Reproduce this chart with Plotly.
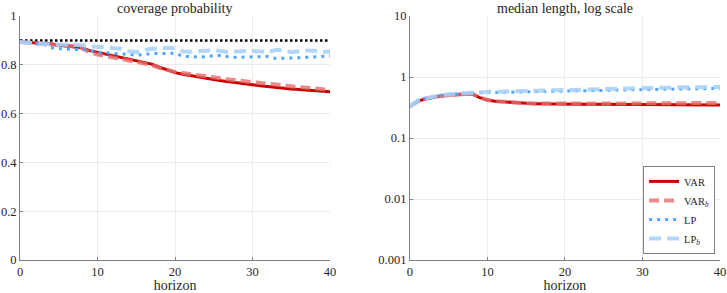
import plotly.graph_objects as go

horizon = list(range(41))
nominal = 0.9

cov_var = [0.893, 0.891, 0.889, 0.889, 0.886, 0.880, 0.877, 0.876, 0.870, 0.858,
           0.851, 0.845, 0.838, 0.832, 0.826, 0.819, 0.812, 0.803, 0.790, 0.778,
           0.768, 0.761, 0.755, 0.750, 0.745, 0.740, 0.735, 0.730, 0.726, 0.722,
           0.718, 0.714, 0.710, 0.707, 0.704, 0.701, 0.699, 0.697, 0.695, 0.693, 0.690]
cov_varb = [0.893, 0.890, 0.887, 0.886, 0.884, 0.878, 0.878, 0.876, 0.868, 0.852,
            0.842, 0.835, 0.828, 0.823, 0.818, 0.812, 0.806, 0.798, 0.788, 0.779,
            0.771, 0.766, 0.761, 0.756, 0.752, 0.748, 0.744, 0.740, 0.736, 0.732,
            0.728, 0.725, 0.721, 0.718, 0.715, 0.712, 0.709, 0.706, 0.703, 0.700, 0.697]
cov_lp = [0.893, 0.889, 0.887, 0.886, 0.870, 0.866, 0.864, 0.863, 0.862, 0.860,
          0.852, 0.850, 0.849, 0.847, 0.843, 0.840, 0.842, 0.846, 0.846, 0.846,
          0.848, 0.835, 0.832, 0.832, 0.833, 0.838, 0.838, 0.832, 0.831, 0.831,
          0.831, 0.832, 0.834, 0.826, 0.826, 0.829, 0.829, 0.831, 0.833, 0.835, 0.836]
cov_lpb = [0.893, 0.890, 0.889, 0.887, 0.884, 0.882, 0.882, 0.882, 0.880, 0.876,
           0.874, 0.872, 0.870, 0.866, 0.856, 0.852, 0.860, 0.866, 0.866, 0.870,
           0.868, 0.855, 0.853, 0.857, 0.858, 0.860, 0.855, 0.852, 0.855, 0.858,
           0.857, 0.855, 0.852, 0.861, 0.860, 0.852, 0.856, 0.859, 0.858, 0.852, 0.855]

len_var = [0.33, 0.40, 0.44, 0.47, 0.49, 0.505, 0.515, 0.525, 0.53, 0.46,
           0.42, 0.40, 0.39, 0.38, 0.375, 0.37, 0.366, 0.363, 0.361, 0.359,
           0.358, 0.357, 0.356, 0.356, 0.355, 0.355, 0.354, 0.354, 0.353, 0.353,
           0.352, 0.352, 0.351, 0.351, 0.350, 0.350, 0.349, 0.349, 0.348, 0.348, 0.347]
len_varb = [0.33, 0.40, 0.44, 0.47, 0.49, 0.505, 0.515, 0.525, 0.53, 0.46,
            0.42, 0.40, 0.39, 0.38, 0.376, 0.372, 0.369, 0.367, 0.366, 0.365,
            0.365, 0.365, 0.366, 0.366, 0.367, 0.367, 0.368, 0.368, 0.369, 0.369,
            0.370, 0.370, 0.371, 0.371, 0.372, 0.372, 0.373, 0.373, 0.374, 0.374, 0.375]
len_lp = [0.33, 0.41, 0.45, 0.48, 0.50, 0.515, 0.525, 0.535, 0.545, 0.55,
          0.555, 0.558, 0.562, 0.566, 0.570, 0.574, 0.578, 0.582, 0.585, 0.588,
          0.591, 0.594, 0.597, 0.600, 0.603, 0.606, 0.609, 0.612, 0.615, 0.618,
          0.621, 0.624, 0.627, 0.630, 0.633, 0.636, 0.639, 0.642, 0.645, 0.648, 0.650]
len_lpb = [0.33, 0.41, 0.45, 0.48, 0.50, 0.52, 0.535, 0.545, 0.56, 0.565,
           0.57, 0.575, 0.58, 0.585, 0.59, 0.595, 0.60, 0.604, 0.608, 0.612,
           0.616, 0.620, 0.624, 0.628, 0.632, 0.636, 0.640, 0.644, 0.648, 0.652,
           0.656, 0.660, 0.664, 0.668, 0.671, 0.674, 0.677, 0.680, 0.683, 0.686, 0.690]

names = ["VAR", "VAR<sub><i>b</i></sub>", "LP", "LP<sub><i>b</i></sub>"]
styles = [
    dict(color="#CC0000", width=3, dash="solid"),
    dict(color="rgba(228,110,110,0.8)", width=4, dash="10px,5px"),
    dict(color="#4DA6FF", width=3, dash="3px,5px"),
    dict(color="rgba(170,210,250,0.9)", width=4, dash="12px,6px"),
]

fig = go.Figure()
fig.add_trace(go.Scatter(x=horizon, y=[nominal] * len(horizon), mode="lines",
                         line=dict(color="black", width=2.5, dash="2.5px,2.5px"),
                         showlegend=False, xaxis="x", yaxis="y"))
for name, st, yv in zip(names, styles, [cov_var, cov_varb, cov_lp, cov_lpb]):
    fig.add_trace(go.Scatter(x=horizon, y=yv, mode="lines", line=st, name=name,
                             showlegend=False, xaxis="x", yaxis="y"))
for name, st, yv in zip(names, styles, [len_var, len_varb, len_lp, len_lpb]):
    fig.add_trace(go.Scatter(x=horizon, y=yv, mode="lines", line=st, name=name,
                             showlegend=True, xaxis="x2", yaxis="y2"))

font = dict(family="Liberation Serif, serif", size=12.5, color="#262626")
tfont = dict(family="Liberation Serif, serif", size=14, color="#262626")
axcommon = dict(showline=True, linecolor="#808080", linewidth=1, mirror=False,
                showgrid=True, gridcolor="#EBEBEB", gridwidth=1,
                ticks="inside", ticklen=3, tickcolor="#808080",
                zeroline=False, automargin=False, tickfont=font)

fig.update_layout(
    width=727, height=293,
    margin=dict(l=20, r=7, t=16, b=33),
    paper_bgcolor="white", plot_bgcolor="white",
    font=font,
    xaxis=dict(domain=[0, 0.4429], range=[0, 40], tickvals=[0, 10, 20, 30, 40],
               title=dict(text="horizon", font=tfont, standoff=0), anchor="y", **axcommon),
    yaxis=dict(range=[0, 1], tickvals=[0, 0.2, 0.4, 0.6, 0.8, 1],
               ticktext=["0", "0.2", "0.4", "0.6", "0.8", "1"], anchor="x", **axcommon),
    xaxis2=dict(domain=[0.5571, 1.0], range=[0, 40], tickvals=[0, 10, 20, 30, 40],
                title=dict(text="horizon", font=tfont, standoff=0), anchor="y2", **axcommon),
    yaxis2=dict(type="log", range=[-3, 1], tickvals=[0.001, 0.01, 0.1, 1, 10],
                ticktext=["0.001", "0.01", "0.1", "1", "10"], anchor="x2", **axcommon),
    legend=dict(x=0.993, y=0.025, xanchor="right", yanchor="bottom",
                bgcolor="white", bordercolor="#808080", borderwidth=1,
                font=dict(family="Liberation Serif, serif", size=10.5, color="#262626"),
                tracegroupgap=0, itemwidth=30),
    annotations=[
        dict(text="coverage probability", x=0.2214, y=1, xref="paper", yref="paper",
             xanchor="center", yanchor="bottom", showarrow=False, yshift=-2, font=tfont),
        dict(text="median length, log scale", x=0.7786, y=1, xref="paper", yref="paper",
             xanchor="center", yanchor="bottom", showarrow=False, yshift=-2, font=tfont),
    ],
)

fig.write_html("out.html", config={"displayModeBar": False},
               post_script="document.body.style.margin='0';document.body.style.overflow='hidden';")
